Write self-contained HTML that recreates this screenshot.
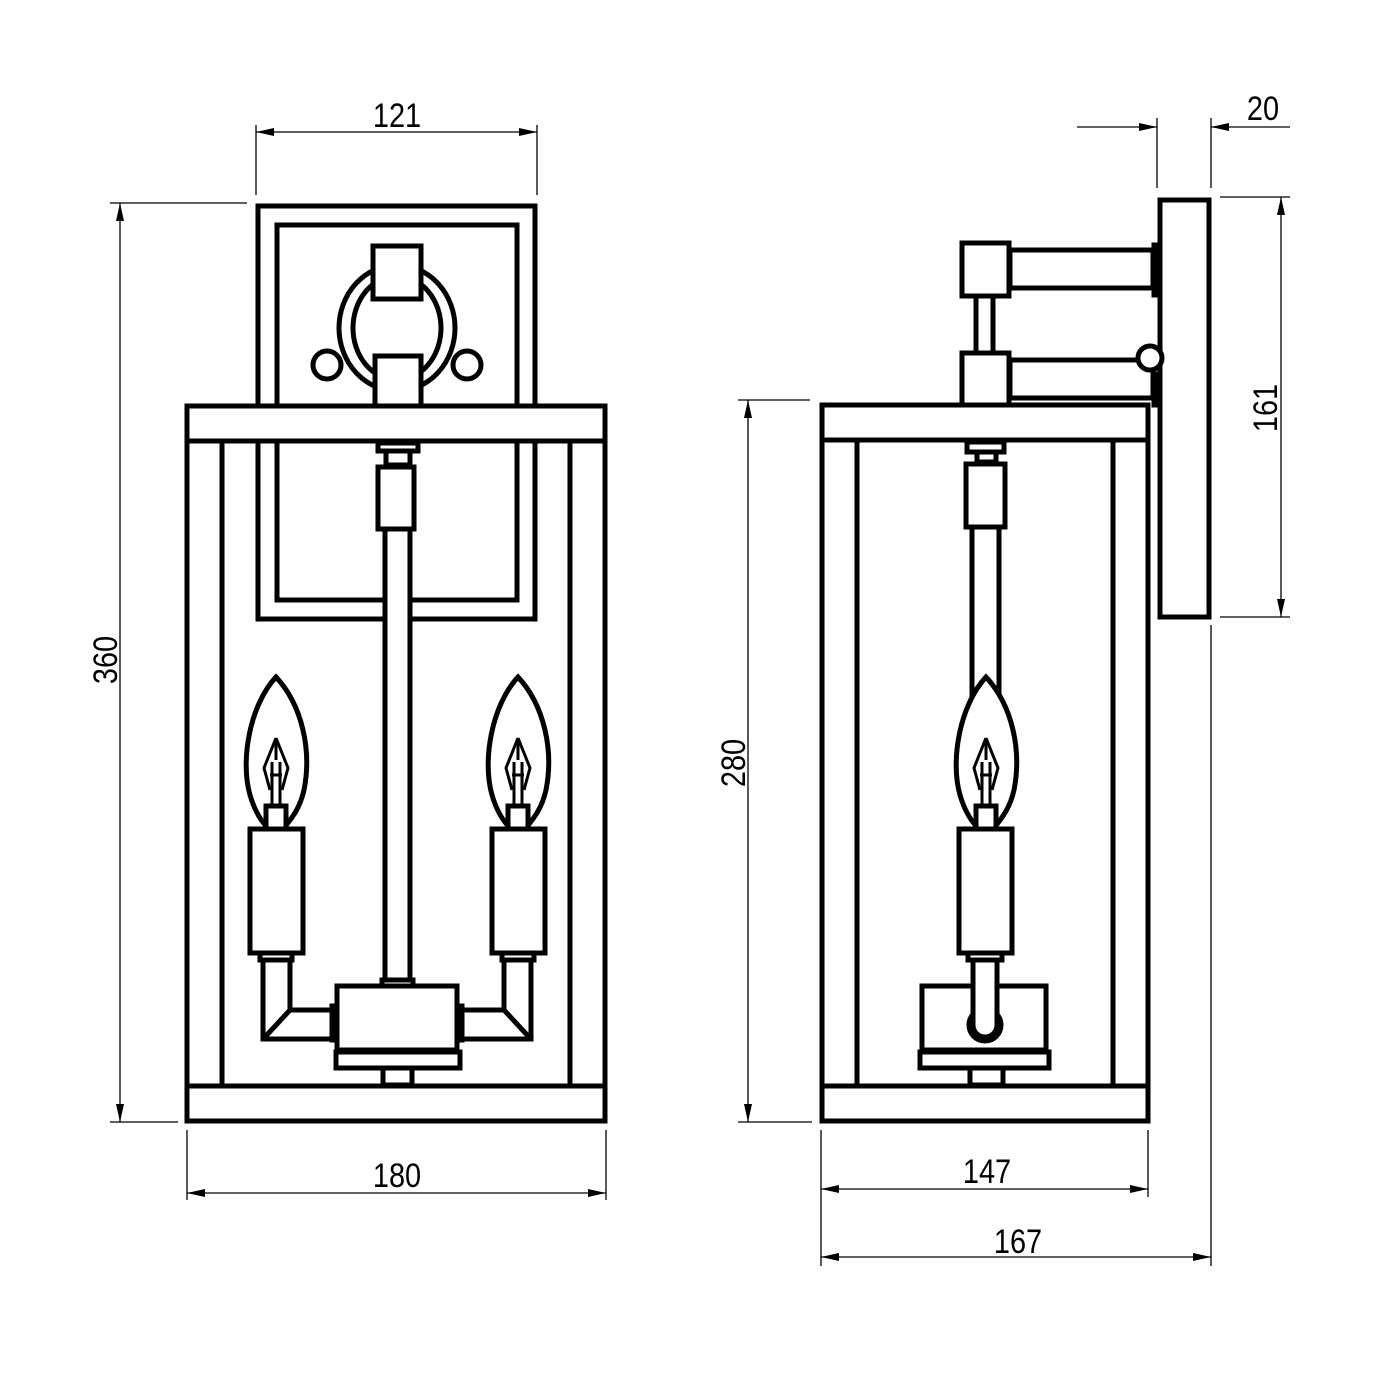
<!DOCTYPE html>
<html><head><meta charset="utf-8"><style>html,body{margin:0;padding:0;background:#fff}svg{display:block}</style></head>
<body>
<svg width="1400" height="1400" viewBox="0 0 1400 1400" xmlns="http://www.w3.org/2000/svg">
<defs>
<marker id="a" viewBox="0 0 18 8" refX="18" refY="4" markerWidth="18" markerHeight="8" markerUnits="userSpaceOnUse" orient="auto-start-reverse"><path d="M0,0 L18,4 L0,8 Z" fill="#000"/></marker>
</defs>
<g fill="none" stroke="#000" stroke-width="1.3">
<line x1="256" y1="125" x2="256" y2="195"/><line x1="537" y1="125" x2="537" y2="195"/>
<line x1="256" y1="132" x2="537" y2="132" marker-start="url(#a)" marker-end="url(#a)"/>
<line x1="110" y1="203" x2="247" y2="203"/><line x1="110" y1="1122" x2="178" y2="1122"/>
<line x1="120" y1="203" x2="120" y2="1122" marker-start="url(#a)" marker-end="url(#a)"/>
<line x1="187" y1="1130" x2="187" y2="1200"/><line x1="606" y1="1130" x2="606" y2="1200"/>
<line x1="187" y1="1193" x2="606" y2="1193" marker-start="url(#a)" marker-end="url(#a)"/>
<line x1="738" y1="400" x2="810" y2="400"/><line x1="738" y1="1122" x2="812" y2="1122"/>
<line x1="748" y1="400" x2="748" y2="1122" marker-start="url(#a)" marker-end="url(#a)"/>
<line x1="821" y1="1130" x2="821" y2="1266"/><line x1="1148" y1="1130" x2="1148" y2="1197"/>
<line x1="821" y1="1189" x2="1148" y2="1189" marker-start="url(#a)" marker-end="url(#a)"/>
<line x1="1211" y1="625" x2="1211" y2="1266"/>
<line x1="821" y1="1257" x2="1211" y2="1257" marker-start="url(#a)" marker-end="url(#a)"/>
<line x1="1220" y1="197" x2="1290" y2="197"/><line x1="1220" y1="617" x2="1290" y2="617"/>
<line x1="1281" y1="197" x2="1281" y2="617" marker-start="url(#a)" marker-end="url(#a)"/>
<line x1="1157" y1="118" x2="1157" y2="188"/><line x1="1211" y1="118" x2="1211" y2="188"/>
<line x1="1077" y1="127" x2="1157" y2="127" marker-end="url(#a)"/>
<line x1="1290" y1="127" x2="1211" y2="127" marker-end="url(#a)"/>
</g>
<g font-family="Liberation Sans, sans-serif" font-size="34" fill="#000" text-anchor="middle">
<text x="397" y="127" transform="translate(397 0) scale(0.85 1) translate(-397 0)">121</text>
<text x="397" y="1187" transform="translate(397 0) scale(0.85 1) translate(-397 0)">180</text>
<text x="987" y="1183" transform="translate(987 0) scale(0.85 1) translate(-987 0)">147</text>
<text x="1018" y="1253" transform="translate(1018 0) scale(0.85 1) translate(-1018 0)">167</text>
<text x="1263" y="120" transform="translate(1263 0) scale(0.85 1) translate(-1263 0)">20</text>
<text transform="translate(117 660) rotate(-90) scale(0.85 1)">360</text>
<text transform="translate(745 763) rotate(-90) scale(0.85 1)">280</text>
<text transform="translate(1277 408) rotate(-90) scale(0.85 1)">161</text>
</g>

<g fill="#fff" stroke="#000" stroke-width="5">
<rect x="258" y="206" width="277" height="413"/>
<rect x="277" y="225" width="240" height="375"/>
<ellipse cx="397" cy="328" rx="58" ry="63"/>
<ellipse cx="397" cy="328" rx="44" ry="52"/>
<circle cx="327" cy="365" r="14"/><circle cx="467" cy="365" r="14"/>
<rect x="373" y="246" width="48" height="53"/>
<rect x="375" y="356" width="46" height="50"/>
<rect x="187" y="406" width="418" height="715" fill="none"/>
<rect x="187" y="406" width="418" height="35"/>
<line x1="222" y1="441" x2="222" y2="1086"/><line x1="570" y1="441" x2="570" y2="1086"/>
<line x1="258" y1="441" x2="258" y2="619"/><line x1="277" y1="441" x2="277" y2="600"/>
<line x1="535" y1="441" x2="535" y2="619"/><line x1="517" y1="441" x2="517" y2="600"/>
<line x1="258" y1="619" x2="535" y2="619"/><line x1="277" y1="600" x2="517" y2="600"/>
<rect x="187" y="1086" width="418" height="35"/>
<rect x="378" y="443" width="40" height="8"/>
<rect x="386" y="451" width="24" height="14"/>
<rect x="378" y="467" width="36" height="62"/>
<rect x="385" y="529" width="25" height="455"/>
<rect x="382" y="980" width="31" height="7"/>
<rect x="383" y="1068" width="29" height="17"/>
<rect x="336" y="1052" width="124" height="16"/>
<path d="M263,960 L263,1039 L333,1039 L333,1010 L290,1010 L290,960 Z"/>
<line x1="265" y1="1037" x2="290" y2="1010"/>
<rect x="260" y="953" width="32" height="7"/>
<path d="M531,960 L531,1039 L461,1039 L461,1010 L504,1010 L504,960 Z"/>
<line x1="529" y1="1037" x2="504" y2="1010"/>
<rect x="502" y="953" width="32" height="7"/>
<rect x="332" y="1006" width="6" height="34" fill="#000"/>
<rect x="456" y="1006" width="6" height="34" fill="#000"/>
<rect x="337" y="986" width="120" height="64"/>
<path d="M276,677 C250,705 240,760 250,795 C255,812 262,822 268,828 L284,828 C292,818 300,808 304,790 C312,750 302,705 276,677 Z"/>
<rect x="250" y="829" width="53" height="124"/>
<rect x="266" y="806" width="20" height="23"/>
<path d="M276,738 L264,768 L270,790 M276,738 L288,768 L282,790" fill="none" stroke-width="3"/>
<path d="M276,738 L276,760 M272,762 L272,806 M280,762 L280,806 M270,775 L282,775" fill="none" stroke-width="3"/>
<path d="M518,677 C492,705 482,760 492,795 C497,812 504,822 510,828 L526,828 C534,818 542,808 546,790 C554,750 544,705 518,677 Z"/>
<rect x="492" y="829" width="53" height="124"/>
<rect x="508" y="806" width="20" height="23"/>
<path d="M518,738 L506,768 L512,790 M518,738 L530,768 L524,790" fill="none" stroke-width="3"/>
<path d="M518,738 L518,760 M514,762 L514,806 M522,762 L522,806 M512,775 L524,775" fill="none" stroke-width="3"/>

<rect x="1160" y="200" width="49" height="417"/>
<rect x="1010" y="250" width="143" height="38"/>
<rect x="1010" y="360" width="143" height="38"/>
<rect x="1152" y="243" width="6" height="54" fill="#000" stroke-width="1"/>
<rect x="1152" y="372" width="6" height="35" fill="#000" stroke-width="1"/>
<circle cx="1150" cy="358" r="12"/>
<rect x="976" y="296" width="17" height="57"/>
<rect x="962" y="243" width="47" height="53"/>
<rect x="962" y="353" width="47" height="52"/>
<rect x="822" y="405" width="326" height="716" fill="none"/>
<rect x="822" y="405" width="326" height="35"/>
<line x1="857" y1="440" x2="857" y2="1086"/><line x1="1113" y1="440" x2="1113" y2="1086"/>
<rect x="822" y="1086" width="326" height="35"/>
<rect x="967" y="442" width="37" height="10"/>
<rect x="977" y="452" width="19" height="10"/>
<rect x="966" y="464" width="39" height="63"/>
<rect x="972" y="527" width="27" height="170"/>
<rect x="922" y="986" width="124" height="64"/>
<rect x="920" y="1052" width="129" height="16"/>
<rect x="970" y="1068" width="33" height="17"/>
<circle cx="985" cy="1025" r="16"/>
<path d="M973,953 L973,1025 A12,12 0 0 0 997,1025 L997,953 Z"/>
<rect x="968" y="953" width="34" height="7"/>
<path d="M986,677 C960,705 950,760 960,795 C965,812 972,822 978,828 L994,828 C1002,818 1010,808 1014,790 C1022,750 1012,705 986,677 Z"/>
<rect x="959" y="829" width="53" height="124"/>
<rect x="976" y="806" width="20" height="23"/>
<path d="M986,738 L974,768 L980,790 M986,738 L998,768 L992,790" fill="none" stroke-width="3"/>
<path d="M986,738 L986,760 M982,762 L982,806 M990,762 L990,806 M980,775 L992,775" fill="none" stroke-width="3"/>
</g>
</svg>
</body></html>
